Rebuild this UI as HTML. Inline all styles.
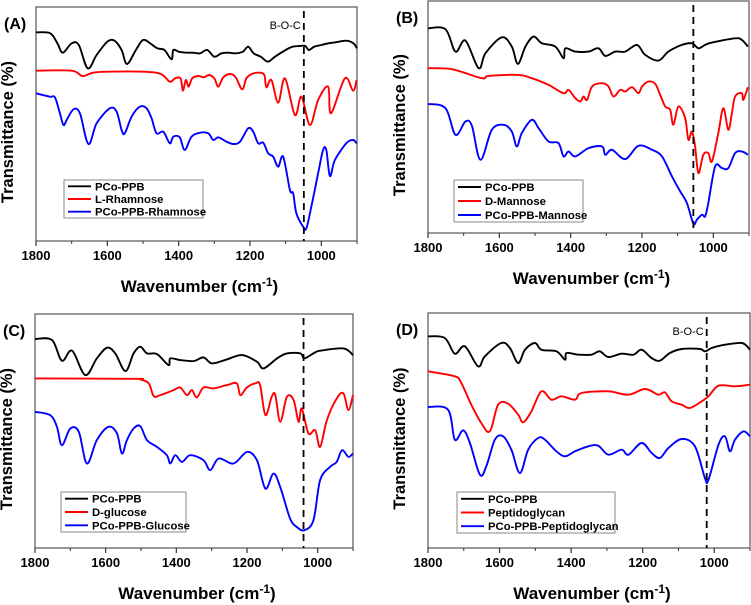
<!DOCTYPE html>
<html><head><meta charset="utf-8"><style>
html,body{margin:0;padding:0;background:#fff}
svg{display:block;font-family:"Liberation Sans",Arial,sans-serif}
</style></head><body>
<svg id="fig" width="751" height="605" viewBox="0 0 751 605" xmlns="http://www.w3.org/2000/svg"></svg>
<script>
// ---- data: wavenumber (cm-1) and transmittance (a.u.) ----
const xTicks=[1800,1600,1400,1200,1000];
const xMinor=[1700,1500,1300,1100,900];

const aBlackWn=[1800,1760,1740,1725,1700,1680,1655,1630,1600,1580,1560,1545,1520,1500,1480,1460,1440,1420,1415,1400,1380,1360,1340,1320,1300,1280,1260,1240,1220,1205,1190,1170,1150,1130,1100,1080,1060,1045,1035,1020,1000,980,960,930,910,900];
const aBlackT=[90.3,90,87,84.2,87,86.5,79.5,83.5,87.5,87.8,85,80.8,85,88,87,85.5,85,82.2,85,84.5,84.2,84.2,84,85,83,84,84.2,84,84.5,86,84,83,81.5,83,85,86,86.2,86.2,85,86,86.5,87,87.3,87.8,87,85.5];
const aRedWn=[1800,1700,1670,1640,1600,1500,1450,1425,1410,1395,1388,1380,1372,1362,1345,1330,1315,1300,1289,1275,1255,1240,1222,1210,1195,1175,1160,1154,1140,1121,1102,1074,1056,1032,1009,981,973,934,911,901];
const aRedT=[78.8,78.8,77.2,78.2,78.5,78.5,77.8,75.5,76.5,76.5,72.8,76,74,76.5,77.2,76.8,77.5,76.5,74,76.8,77.8,76.8,73.2,76.5,77.8,78.2,77.5,73.8,76,69.2,76.5,65.5,71,62.5,70,74,66,76.5,72.8,76];
const aBlueWn=[1800,1761,1747,1733,1723,1714,1695,1677,1653,1630,1593,1574,1560,1551,1532,1509,1490,1476,1462,1443,1425,1415,1397,1383,1364,1340,1317,1303,1289,1266,1247,1228,1205,1191,1177,1163,1149,1135,1121,1107,1088,1079,1070,1051,1042,1028,1009,995,986,976,962,930,911,901];
const aBlueT=[72,71,70.8,66,62.5,64,67.2,66,56.8,63,67.5,66.5,61,60,65,68,67.5,64.5,60,60.5,57,59,58.8,55,59,60.2,60,58,58.8,57.5,56.8,57.5,61.5,60.5,57,57.2,54,53,50,53,43,42,36,32,31.5,38,48,55,55,47.2,52,57,58,57];

const bBlackWn=[1800,1751,1723,1695,1658,1639,1593,1565,1548,1527,1504,1481,1443,1420,1415,1387,1350,1322,1303,1275,1247,1214,1191,1154,1126,1088,1060,1042,1023,1004,939,920,903];
const bBlackT=[91.5,91.2,84.5,87.8,79.5,84,88.8,86,80.8,86,89,87,86,82.5,85.5,84.5,84.5,85.5,83.2,84.5,84.5,86.5,83.5,81.8,84.5,86.5,87,85.5,86.5,87.2,88.5,88,86];
const bRedWn=[1800,1733,1649,1630,1546,1509,1462,1420,1406,1387,1373,1364,1354,1340,1312,1294,1280,1261,1247,1228,1210,1200,1182,1163,1149,1135,1121,1112,1098,1079,1070,1060,1051,1042,1028,1014,1004,986,972,958,948,939,920,916,903];
const bRedT=[79.5,79.2,76.5,77.2,77.5,76.5,74.5,72,73,70.5,69.5,71,70,74,75,74,71,73,72.5,73.8,72,74,75.5,74.8,71.5,68,67,62.5,68,64.5,58,60.5,56,48,53.5,54,51.5,60,67.5,61,66,71,72,70,73.8];
const bBlueWn=[1800,1751,1723,1695,1677,1653,1621,1588,1565,1551,1537,1509,1490,1462,1434,1420,1406,1387,1350,1312,1303,1284,1247,1210,1172,1144,1116,1093,1074,1056,1046,1032,1023,1014,995,976,958,939,920,903];
const bBlueT=[68.8,67.5,59.5,63.5,62.2,52,61,62.5,60.5,56,60,64,61.5,57.5,57,53,54.5,53,55.5,56,53.5,55,52.2,56.2,55,53,47,42.5,39,32.8,34,35.5,35,39,50,49.5,49.5,54,54.5,53.5];

const cBlackWn=[1800,1752,1724,1695,1658,1625,1596,1573,1544,1521,1502,1483,1455,1422,1417,1389,1351,1323,1299,1257,1214,1172,1153,1115,1087,1049,1038,1012,993,927,900];
const cBlackT=[88.3,88,81.8,84.8,77.5,82.5,85.7,84,78.7,84,86,84,83.8,80.5,82.5,82,81.7,82.8,81,82.2,83.5,81.5,79.5,82.5,84,84,82.5,84,84.8,85.5,83.5];
const cRedWn=[1800,1520,1502,1478,1464,1445,1408,1389,1370,1356,1342,1323,1295,1257,1229,1219,1200,1177,1163,1148,1130,1120,1106,1087,1068,1054,1045,1026,1007,993,974,946,927,913,900];
const cRedT=[76.5,76.4,76.2,75,71.2,71.5,73,73.8,71.5,73,70.8,73.8,73.5,74.5,75,71.5,73.8,75,74.5,65.5,71,71.5,63.5,71,70,63.5,67.5,60,61,56,64,70.5,72,67,71.5];
const cBlueWn=[1800,1757,1738,1724,1700,1676,1653,1625,1592,1568,1554,1540,1521,1502,1483,1455,1427,1417,1403,1384,1361,1323,1304,1280,1238,1200,1172,1148,1125,1106,1078,1059,1038,1012,993,965,946,931,913,900];
const cBlueT=[66.5,65.5,62,56.5,61.5,60.5,51,58,62,60,54,58,61.5,62.2,58,56,53.5,51,53.5,51.5,53.5,52,49,52.5,51,54.5,52,43.5,48,44,34.5,32,31,34,46,50,51.5,55,53,54];

const dBlackWn=[1800,1753,1725,1697,1660,1641,1595,1571,1548,1529,1501,1483,1441,1417,1413,1380,1343,1320,1296,1259,1226,1203,1175,1152,1124,1091,1040,1026,1007,979,923,900];
const dBlackT=[89,88.5,83.8,86,80,83,87,85.5,81,85,87,85,84.5,82,84,83.5,83.5,84.5,82.8,83.8,83.5,85,82.5,81.7,84,85.2,85.2,84.5,85.5,86.3,87,85];
const dRedWn=[1800,1725,1707,1679,1651,1627,1604,1576,1548,1534,1511,1483,1455,1427,1389,1371,1296,1240,1193,1156,1138,1119,1091,1068,1035,1016,988,942,900];
const dRedT=[78.5,77,75,68.5,63,60.5,68.5,68.8,65.5,63.2,66.5,72.5,70,71,70,72,72.5,71.5,73.2,71.5,72.2,69.5,68.5,67.5,69.5,71,74.2,74,74.5];
const dBlueWn=[1800,1744,1725,1702,1683,1655,1637,1613,1590,1567,1543,1520,1492,1473,1441,1417,1389,1352,1324,1296,1259,1240,1203,1175,1152,1128,1091,1054,1026,1016,988,970,956,942,918,900];
const dBlueT=[67.8,67,58,60.8,57,47.5,50,58,59,55,48,55,58.5,58,54.5,53,54.5,56,56.2,53.5,55,53.5,57,54,52.5,55.5,58.2,56,46.5,46,56.5,59,54.5,58,60.5,59];

// ---- layout ----
const panels=[
 {id:'a',tag:'(A)',x0:36,x1:357,y0:7,y1:241,tTop:97.9,tBot:27.7,dash:1049,boc:true,
  series:[[aBlackWn,aBlackT,'#000'],[aRedWn,aRedT,'#f00'],[aBlueWn,aBlueT,'#00f']],
  legend:['PCo-PPB','L-Rhamnose','PCo-PPB-Rhamnose'],lx:64,ly:180,lw:139,lh:38},
 {id:'b',tag:'(B)',x0:428,x1:749,y0:1,y1:233,tTop:99.7,tBot:30,dash:1056,boc:false,
  series:[[bBlackWn,bBlackT,'#000'],[bRedWn,bRedT,'#f00'],[bBlueWn,bBlueT,'#00f']],
  legend:['PCo-PPB','D-Mannose','PCo-PPB-Mannose'],lx:454,ly:180,lw:129,lh:42},
 {id:'c',tag:'(C)',x0:35,x1:353,y0:314,y1:548,tTop:95.8,tBot:25.7,dash:1040,boc:false,
  series:[[cBlackWn,cBlackT,'#000'],[cRedWn,cRedT,'#f00'],[cBlueWn,cBlueT,'#00f']],
  legend:['PCo-PPB','D-glucose','PCo-PPB-Glucose'],lx:61,ly:492,lw:125,lh:40},
 {id:'d',tag:'(D)',x0:428,x1:750,y0:313,y1:548,tTop:96,tBot:25.5,dash:1021,boc:true,
  series:[[dBlackWn,dBlackT,'#000'],[dRedWn,dRedT,'#f00'],[dBlueWn,dBlueT,'#00f']],
  legend:['PCo-PPB','Peptidoglycan','PCo-PPB-Peptidoglycan'],lx:457,ly:492,lw:158,lh:41}
];
const NS='http://www.w3.org/2000/svg';
const svg=document.getElementById('fig');
function mk(tag,attrs,parent,text){const e=document.createElementNS(NS,tag);for(const k in attrs)e.setAttribute(k,attrs[k]);if(text!==undefined)e.textContent=text;(parent||svg).appendChild(e);return e;}
function smooth(pts){let d='M'+pts[0][0].toFixed(1)+','+pts[0][1].toFixed(1);
 for(let i=0;i<pts.length-1;i++){const p0=pts[Math.max(i-1,0)],p1=pts[i],p2=pts[i+1],p3=pts[Math.min(i+2,pts.length-1)];
  const c1x=p1[0]+(p2[0]-p0[0])/6,c1y=p1[1]+(p2[1]-p0[1])/6,c2x=p2[0]-(p3[0]-p1[0])/6,c2y=p2[1]-(p3[1]-p1[1])/6;
  d+=' C'+c1x.toFixed(1)+','+c1y.toFixed(1)+' '+c2x.toFixed(1)+','+c2y.toFixed(1)+' '+p2[0].toFixed(1)+','+p2[1].toFixed(1);}
 return d;}
const names=['black','red','blue'];
panels.forEach(p=>{
 const g=mk('g',{});
 
 
 const X=w=>p.x0+(1800-w)/900*(p.x1-p.x0);
 const Y=t=>p.y0+(p.tTop-t)/(p.tTop-p.tBot)*(p.y1-p.y0);
 const cx=(p.x0+p.x1)/2, cy=(p.y0+p.y1)/2;
 const fr=mk('rect',{x:p.x0,y:p.y0,width:p.x1-p.x0,height:p.y1-p.y0,fill:'none',stroke:'#555','stroke-width':1.2},g);
 
 
 xTicks.forEach(v=>{mk('line',{x1:X(v),x2:X(v),y1:p.y1,y2:p.y1+5,stroke:'#333','stroke-width':1.2},g);
  const t=mk('text',{x:X(v),y:p.y1+19,'text-anchor':'middle','font-size':13,'font-weight':'bold'},g,String(v));
  
  });
 xMinor.forEach(v=>mk('line',{x1:X(v),x2:X(v),y1:p.y1,y2:p.y1+3,stroke:'#333','stroke-width':1},g));
 const xl=mk('text',{x:cx+3,y:p.y1+51,'text-anchor':'middle','font-size':17,'font-weight':'bold'},g);
 xl.innerHTML='Wavenumber (cm<tspan dy="-6" font-size="12">-1</tspan><tspan dy="6">)</tspan>';
 
 
 const yl=mk('text',{x:0,y:0,'text-anchor':'middle','font-size':16.5,'font-weight':'bold',transform:'translate('+(p.x0-23)+','+(cy+8)+') rotate(-90)'},g,'Transmittance (%)');
 
 
 const tg=mk('text',{x:p.x0-32,y:p.y0+22,'font-size':16,'font-weight':'bold'},g,p.tag);
 
 
 p.series.forEach((s,i)=>{const pts=s[0].map((w,j)=>[X(w),Y(s[1][j])]);
  const path=mk('path',{d:smooth(pts),fill:'none',stroke:s[2],'stroke-width':1.9,'stroke-linejoin':'round'},g);
  
  });
 const dl=mk('line',{x1:X(p.dash),x2:X(p.dash),y1:p.y0+4,y2:p.y1,stroke:'#000','stroke-width':1.8,'stroke-dasharray':'7,5'},g);
 
 
 if(p.boc){const bt=mk('text',{x:X(p.dash)-3,y:p.y0+22,'text-anchor':'end','font-size':11},g,'B-O-C');
  
  }
 const lg=mk('g',{},g);
 
 
 mk('rect',{x:p.lx,y:p.ly,width:p.lw,height:p.lh,fill:'#fff',stroke:'#888','stroke-width':1},lg);
 p.legend.forEach((lab,i)=>{const yy=p.ly+p.lh*(i+0.5)/3;
  mk('line',{x1:p.lx+4,x2:p.lx+27,y1:yy,y2:yy,stroke:p.series[i][2],'stroke-width':1.9},lg);
  const t=mk('text',{x:p.lx+31,y:yy+4,'font-size':11.3,'font-weight':'bold'},lg,lab);
  
  });
});
</script>
</body></html>
